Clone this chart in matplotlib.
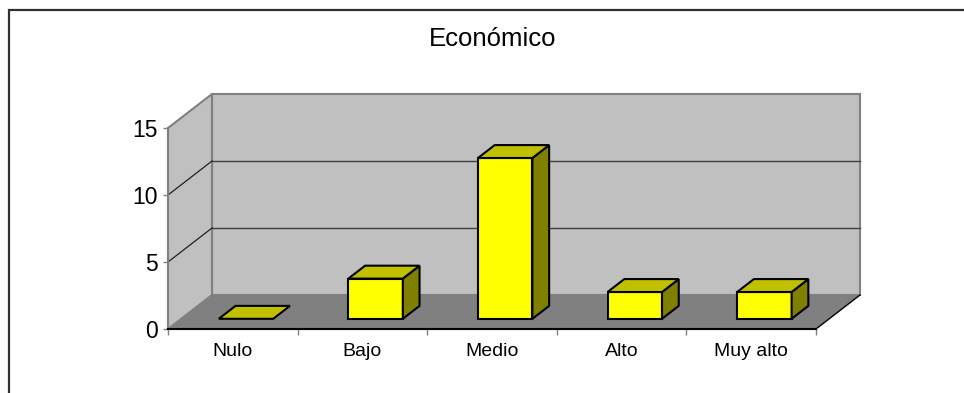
import matplotlib
matplotlib.use("Agg")
import matplotlib.pyplot as plt
from matplotlib.patches import Polygon, Rectangle
from matplotlib.lines import Line2D
from matplotlib.transforms import IdentityTransform

plt.rcParams['font.family'] = ['Liberation Sans', 'DejaVu Sans']

categories = ["Nulo", "Bajo", "Medio", "Alto", "Muy alto"]
values = [0, 3, 12, 2, 2]
yticks = [0, 5, 10, 15]
title = "Económico"

# depth of the fake 3d box, in pixels (right, up)
DEPTH_DX, DEPTH_DY = 44, 34
BAR_D0, BAR_D1 = 0.30, 0.68
BAR_W = 0.42

fig = plt.figure(figsize=(9.64, 3.93), dpi=100)
W, H = 964, 393
ax = fig.add_axes([168 / W, 1 - 329 / H, (816 - 168) / W, (329 - 128) / H])
ax.set_xlim(-0.5, len(categories) - 0.5)
ax.set_ylim(0, 15)
ax.patch.set_visible(False)
for s in ["top", "right"]:
    ax.spines[s].set_visible(False)
ax.spines["left"].set_color("#808080")
ax.spines["left"].set_linewidth(1.5)
ax.spines["bottom"].set_color("black")
ax.spines["bottom"].set_linewidth(1.5)
ax.spines["bottom"].set_zorder(4)

ax.set_yticks(yticks)
ax.set_yticklabels([str(t) for t in yticks], fontsize=16.5)
ax.tick_params(axis="y", length=3.6, width=1, color="#808080", pad=3.5)

ax.set_xticks([i - 0.5 for i in range(len(categories) + 1)])
ax.set_xticklabels([])
ax.set_xticks(range(len(categories)), minor=True)
ax.set_xticklabels(categories, minor=True, fontsize=14)
ax.tick_params(axis="x", which="major", length=4.5, width=1, color="#808080")
ax.tick_params(axis="x", which="minor", length=0, pad=10)


def P(x, y, d):
    px, py = ax.transData.transform((x, y))
    return (px + d * DEPTH_DX, py + d * DEPTH_DY)


def poly(pts, fc, ec="none", lw=0, z=1):
    p = Polygon(pts, closed=True, facecolor=fc, edgecolor=ec, linewidth=lw,
                transform=IdentityTransform(), clip_on=False, zorder=z,
                joinstyle="miter")
    ax.add_patch(p)


def seg(a, b, color, lw, z):
    ax.add_line(Line2D([a[0], b[0]], [a[1], b[1]], color=color, linewidth=lw,
                       transform=IdentityTransform(), clip_on=False, zorder=z))


x0, x1 = -0.5, len(categories) - 0.5
ymax = yticks[-1]

# walls
poly([P(x0, 0, 1), P(x0, ymax, 1), P(x1, ymax, 1), P(x1, 0, 1)],
     "#C0C0C0", "#808080", 1.5, z=0.5)
poly([P(x0, 0, 0), P(x0, ymax, 0), P(x0, ymax, 1), P(x0, 0, 1)],
     "#C0C0C0", "#808080", 1.5, z=0.6)

# gridlines on the back and side walls
for v in yticks[1:-1]:
    seg(P(x0, v, 1), P(x1, v, 1), "#404040", 1.0, 0.7)
    seg(P(x0, v, 0), P(x0, v, 1), "#202020", 0.9, 0.7)

# floor
poly([P(x0, 0, 0), P(x0, 0, 1), P(x1, 0, 1), P(x1, 0, 0)], "#808080", z=0.8)
seg(P(x1, 0, 0), P(x1, 0, 1), "black", 1.0, 0.9)

# bars
for i, v in enumerate(values):
    a, b = i - BAR_W / 2, i + BAR_W / 2
    if v > 0:
        poly([P(a, 0, BAR_D0), P(a, v, BAR_D0), P(b, v, BAR_D0), P(b, 0, BAR_D0)],
             "#FFFF00", "black", 1.5, z=3)
        poly([P(b, 0, BAR_D0), P(b, v, BAR_D0), P(b, v, BAR_D1), P(b, 0, BAR_D1)],
             "#808000", "black", 1.5, z=3)
    poly([P(a, v, BAR_D0), P(a, v, BAR_D1), P(b, v, BAR_D1), P(b, v, BAR_D0)],
         "#C0C000", "black", 1.5, z=3)

fig.text(493 / W, 1 - 46 / H, title, ha="center", va="baseline", fontsize=18.5)

# outer chart frame (runs off the right and bottom edges)
fig.add_artist(Rectangle((9 / W, -0.2), 1.2, 1.2 - 10 / H, transform=fig.transFigure,
                         facecolor="none", edgecolor="#303030", linewidth=1.6))

fig.savefig("out.png", dpi=100)
